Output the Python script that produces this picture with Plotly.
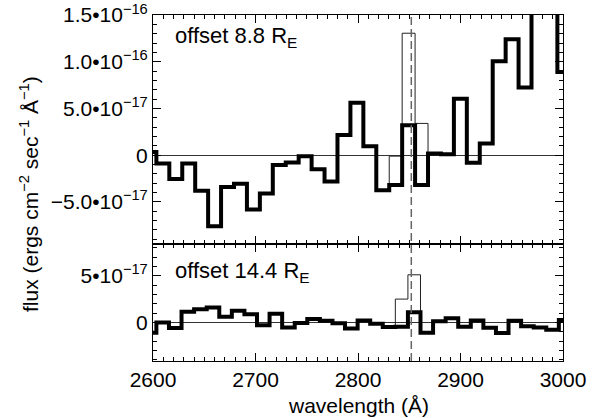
import numpy as np
import plotly.graph_objects as go

# ---- data (flux in units of 1e-17 ergs cm^-2 s^-1 A^-1) ----
scale = 1e-17
# top panel (offset 8.8 R_E): bins start at edge, constant width
top_bin_start = 2603.3 - 12.62   # left edge of first (partially visible) bin
top_bin_width = 12.62
top_thick = [0.35, -0.9, -2.55, -0.9, -3.8, -7.6, -3.4, -3.05, -5.8, -4.1,
             -1.05, -0.78, -0.1, -1.5, -2.8, 2.15, 5.6, 0.95, -3.75, -3.2,
             3.2, -3.2, 0.18, 0.1, 6.05, -0.8, 1.25, 10.05, 12.4, 7.25,
             20.0, 20.0, 8.9]
top_thin = [0.35, -0.9, -2.55, -0.9, -3.8, -7.6, -3.4, -3.05, -5.8, -4.1,
            -1.05, -0.78, -0.1, -1.5, -2.8, 2.15, 5.6, 0.95, -3.75, -0.1,
            13.05, 3.4, 0.18, 0.1, 6.05, -0.8, 1.25, 10.05, 12.4, 7.25,
            20.0, 20.0, 8.9]

# bottom panel (offset 14.4 R_E)
bot_bin_start = 2603.3 - 12.27
bot_bin_width = 12.27
bot_thick = [-1.1, 0.0, -0.6, 1.15, 1.4, 1.6, 0.6, 1.25, 0.88, -0.3,
             0.92, -0.55, -0.05, 0.37, 0.17, -0.08, -0.65, 0.2, -0.15, -0.5,
             -0.45, 1.1, -1.1, 0.12, 0.45, -0.45, 0.2, -0.57, -1.12, 0.18,
             -0.42, -0.54, -0.77, 0.25]
bot_thin = [-1.1, 0.0, -0.6, 1.15, 1.4, 1.6, 0.6, 1.25, 0.88, -0.3,
            0.92, -0.55, -0.05, 0.37, 0.17, -0.08, -0.65, 0.2, -0.15, -0.5,
            2.5, 5.1, -1.1, 0.12, 0.45, -0.45, 0.2, -0.57, -1.12, 0.18,
            -0.42, -0.54, -0.77, 0.25]

line_wavelength = 2852.0
x_ticks = [2600, 2700, 2800, 2900, 3000]
top_yticks = [-5e-17, 0, 5e-17, 1.0e-16, 1.5e-16]
top_yticktext = ["\u22125.0\u202210<sup>\u221217</sup>", "0",
                 "5.0\u202210<sup>\u221217</sup>", "1.0\u202210<sup>\u221216</sup>",
                 "1.5\u202210<sup>\u221216</sup>"]
bot_yticks = [0, 5e-17]
bot_yticktext = ["0", "5\u202210<sup>\u221217</sup>"]


def step_xy(start, width, vals):
    n = len(vals)
    edges = start + width * np.arange(n + 1)
    ys = np.array(vals + [vals[-1]]) * scale
    return edges, ys


FONT = "Liberation Sans, Arial, Helvetica, sans-serif"
fig = go.Figure()

for (start, width, vals, lw, col, ax) in [
    (top_bin_start, top_bin_width, top_thin, 1, "#222", ("x2", "y2")),
    (top_bin_start, top_bin_width, top_thick, 4, "black", ("x2", "y2")),
    (bot_bin_start, bot_bin_width, bot_thin, 1, "#222", ("x", "y")),
    (bot_bin_start, bot_bin_width, bot_thick, 4, "black", ("x", "y")),
]:
    ex, ey = step_xy(start, width, vals)
    fig.add_trace(go.Scatter(x=ex, y=ey, mode="lines", line=dict(shape="hv", width=lw, color=col),
                             xaxis=ax[0], yaxis=ax[1], showlegend=False, hoverinfo="skip"))

split = 117 / 346
axis_common = dict(showline=True, linecolor="black", linewidth=1, mirror="ticks",
                   ticks="inside", tickcolor="black", tickwidth=1, showgrid=False,
                   automargin=False, ticklabeloverflow="allow")

fig.update_layout(
    template="none",
    width=602, height=418,
    margin=dict(l=153, r=39, t=15, b=57),
    paper_bgcolor="white", plot_bgcolor="white",
    font=dict(family=FONT, size=21, color="black"),
    xaxis=dict(range=[2600, 3000], tickvals=x_ticks, ticklen=8, anchor="y",
               minor=dict(dtick=10, tick0=2600, ticklen=4, ticks="inside", tickcolor="black",
                          showgrid=False),
               tickfont=dict(size=21), **axis_common),
    xaxis2=dict(range=[2600, 3000], tickvals=x_ticks, ticklen=8, anchor="y2", matches="x",
                showticklabels=False,
                minor=dict(dtick=10, tick0=2600, ticklen=4, ticks="inside", tickcolor="black",
                           showgrid=False),
                **axis_common),
    yaxis=dict(domain=[0, split], range=[-4.13e-17, 8.4e-17], tickvals=bot_yticks,
               ticktext=bot_yticktext, ticklen=8, anchor="x",
               minor=dict(dtick=1e-17, tick0=0, ticklen=4, ticks="inside", tickcolor="black",
                          showgrid=False),
               zeroline=True, zerolinecolor="#333", zerolinewidth=1, **axis_common),
    yaxis2=dict(domain=[split, 1], range=[-9.5e-17, 1.5e-16], tickvals=top_yticks,
                ticktext=top_yticktext, ticklen=8, anchor="x2",
                minor=dict(dtick=1e-17, tick0=0, ticklen=4, ticks="inside", tickcolor="black",
                           showgrid=False),
                zeroline=True, zerolinecolor="#333", zerolinewidth=1, **axis_common),
)

fig.add_shape(type="line", xref="x", yref="paper", x0=line_wavelength, x1=line_wavelength,
              y0=0, y1=1, line=dict(color="#666", width=1.5, dash="8px,4px"), layer="above")

fig.add_annotation(text="offset 8.8 R<sub>E</sub>", xref="paper", yref="paper",
                   x=(173 - 153) / 410, y=(361 - 37) / 346, xanchor="left", yanchor="middle",
                   showarrow=False, font=dict(size=22))
fig.add_annotation(text="offset 14.4 R<sub>E</sub>", xref="paper", yref="paper",
                   x=(173 - 153) / 410, y=(361 - 272) / 346, xanchor="left", yanchor="middle",
                   showarrow=False, font=dict(size=22))
fig.add_annotation(text="wavelength (\u00c5)", xref="paper", yref="paper",
                   x=0.5, y=(361 - 405) / 346, xanchor="center", yanchor="middle",
                   showarrow=False, font=dict(size=21))
fig.add_annotation(text="flux (ergs cm<sup>\u22122</sup> sec<sup>\u22121</sup> \u00c5<sup>\u22121</sup>)",
                   xref="paper", yref="paper", x=(29 - 153) / 410, y=(361 - 194) / 346,
                   xanchor="center", yanchor="middle", textangle=-90,
                   showarrow=False, font=dict(size=21))

# remove the default 8px page margin so the figure sits at the window origin
fig.write_html("out.html", config={"displayModeBar": False},
               post_script="document.body.style.margin='0px';document.body.style.overflow='hidden';")
